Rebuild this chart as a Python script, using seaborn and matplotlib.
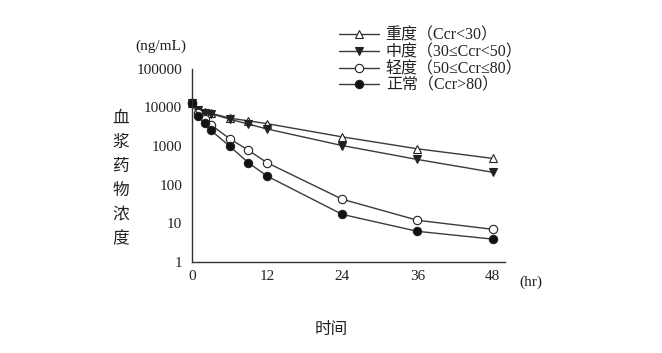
import pandas as pd
import matplotlib.pyplot as plt
import seaborn as sns
from matplotlib.ticker import FixedLocator, NullLocator

# sampling times (hr)
hours = [0, 1, 2, 3, 6, 9, 12, 24, 36, 48]

# plasma concentration (ng/mL)
severe = [13000, 8700, 7600, 7100, 5300, 4500, 3800, 1730, 850, 480]
moderate = [13000, 8400, 7100, 6900, 5000, 3700, 2770, 1030, 450, 210]
mild = [13000, 7100, 5000, 3580, 1560, 780, 370, 42, 12, 7]
normal = [13000, 6100, 3950, 2560, 1000, 370, 167, 17, 6.2, 3.9]

labels = ["重度（Ccr<30）", "中度（30≤Ccr<50）", "轻度（50≤Ccr≤80）", "正常（Ccr>80）"]
x_ticks = [0, 12, 24, 36, 48]
y_ticks = [1, 10, 100, 1000, 10000, 100000]

sns.set_theme(style="white")
plt.rcParams['font.family'] = ['Liberation Serif', 'Noto Sans CJK SC', 'DejaVu Sans']
cjk = ['Noto Sans CJK SC', 'DejaVu Sans']
mixed = ['Liberation Serif', 'Noto Sans CJK SC', 'DejaVu Sans']

fig = plt.figure(figsize=(6.62, 3.53), dpi=100)
ax = fig.add_axes([0.290, 0.258, 0.473, 0.547])

styles = [
    ("^", "white"),
    ("v", "#222222"),
    ("o", "white"),
    ("o", "#111111"),
]
for vals, lab, (mk, fc) in zip([severe, moderate, mild, normal], labels, styles):
    df = pd.DataFrame({"hr": hours, "conc": vals})
    sns.lineplot(data=df, x="hr", y="conc", ax=ax, color="#3a3a3a", linewidth=1.0,
                 marker=mk, markersize=6, mfc=fc, mec="#222222", mew=0.8, label=lab,
                 clip_on=False)

ax.set_yscale("log")
ax.set_xlim(0, 50)
ax.set_ylim(1, 100000)
ax.xaxis.set_major_locator(FixedLocator(x_ticks))
ax.yaxis.set_major_locator(FixedLocator(y_ticks))
ax.yaxis.set_minor_locator(NullLocator())
ax.set_xticklabels([str(t) for t in x_ticks])
ax.set_yticklabels([str(t) for t in y_ticks])
ax.tick_params(axis="x", direction="in", length=3, width=0.8, colors="#333333",
               labelsize=11, pad=6, labelcolor="#222222")
ax.tick_params(axis="y", direction="out", length=4, width=0.8, colors="#333333",
               labelsize=11, pad=3, labelcolor="#222222")
ax.set_xlabel("")
ax.set_ylabel("")
for side in ["top", "right"]:
    ax.spines[side].set_visible(False)
for side in ["left", "bottom"]:
    ax.spines[side].set_color("#333333")
    ax.spines[side].set_linewidth(1.0)

leg = ax.legend(loc="upper left", bbox_to_anchor=(0.503, 0.94), bbox_transform=fig.transFigure,
                frameon=False, fontsize=11.5, handlelength=2.5, labelspacing=0.05,
                handletextpad=0.4, borderaxespad=0)
for t in leg.get_texts():
    t.set_family(mixed)
    t.set_color("#222222")

fig.text(0.205, 0.858, "(ng/mL)", fontsize=11, family=mixed, color="#222222")
fig.text(0.785, 0.19, "(hr)", fontsize=11, family=mixed, color="#222222")
fig.text(0.182, 0.69, "\n".join("血浆药物浓度"), fontsize=12, family=cjk, color="#222222",
         ha="center", va="top", linespacing=1.55)
fig.text(0.50, 0.055, "时间", fontsize=12, family=cjk, color="#222222", ha="center")

fig.savefig("out.png", dpi=100)
